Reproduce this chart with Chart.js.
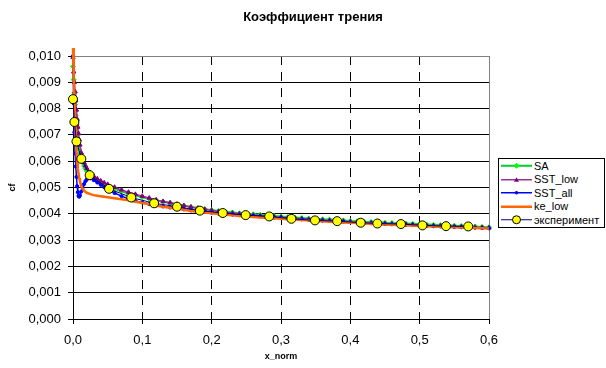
<!DOCTYPE html>
<html>
<head>
<meta charset="utf-8">
<script src="https://cdn.jsdelivr.net/npm/chart.js@4.4.0/dist/chart.umd.min.js"></script>
<style>
html,body{margin:0;padding:0;background:#fff;}
#wrap{position:relative;width:606px;height:368px;overflow:hidden;font-family:"Liberation Sans",Arial,sans-serif;}
#c{position:absolute;left:0;top:0;}
#title{position:absolute;left:0;width:626px;top:9px;line-height:16px;text-align:center;font-weight:bold;font-size:13px;color:#000;}
#legend{position:absolute;left:498px;top:158px;width:105px;border:1px solid #000;background:#fff;}
.row{height:13.5px;display:flex;align-items:center;font-size:11px;white-space:nowrap;color:#000;}
.row svg{margin-left:2px;margin-right:2px;flex:none;}
</style>
</head>
<body>
<div id="wrap">
  <canvas id="c" width="606" height="368"></canvas>
  <div id="title">Коэффициент трения</div>
  <div id="legend"></div>
</div>
<script>
// ---- data ----
const chartTitle = 'Коэффициент трения';
const xTitle = 'x_norm';
const yTitle = 'cf';
const seriesNames = ['SA', 'SST_low', 'SST_all', 'ke_low', 'эксперимент'];
const xTickLabels = ['0,0', '0,1', '0,2', '0,3', '0,4', '0,5', '0,6'];
const yTickLabels = ['0,000','0,001','0,002','0,003','0,004','0,005','0,006','0,007','0,008','0,009','0,010'];

const xGrid = [0,0.001,0.002,0.003,0.004,0.005,0.006,0.007,0.008,0.009,0.010,0.012,0.014,0.016,0.018,0.020,0.025,0.030,0.035,0.040,0.045,0.050,0.060,0.070,0.080,0.090,0.100,
  0.11,0.12,0.13,0.14,0.15,0.16,0.17,0.18,0.19,0.20,0.21,0.22,0.23,0.24,0.25,0.26,0.27,0.28,0.29,0.30,
  0.31,0.32,0.33,0.34,0.35,0.36,0.37,0.38,0.39,0.40,0.41,0.42,0.43,0.44,0.45,0.46,0.47,0.48,0.49,0.50,
  0.51,0.52,0.53,0.54,0.55,0.56,0.57,0.58,0.59,0.60];

const saY = [0.00960,0.00910,0.00860,0.00815,0.00775,0.00740,0.00710,0.00685,0.00665,0.00645,0.00630,0.00610,0.00595,0.00582,0.00572,0.00563,0.00546,0.00534,0.00524,0.00517,0.00510,0.00505,0.00495,0.00486,0.00477,0.00470,0.00463,
  0.00457,0.00451,0.00446,0.00441,0.00436,0.00431,0.00426,0.00422,0.00418,0.00414,
  0.00411,0.00408,0.00405,0.00402,0.00400,0.00398,0.00396,0.00394,0.00392,0.00390,
  0.00388,0.00386,0.00384,0.00382,0.00381,0.00379,0.00378,0.00376,0.00375,0.00373,
  0.00372,0.00370,0.00369,0.00368,0.00366,0.00365,0.00364,0.00363,0.00362,0.00360,
  0.00359,0.00358,0.00357,0.00356,0.00355,0.00354,0.00353,0.00352,0.00350,0.00349];

const sstLowY = [0.00995,0.00940,0.00900,0.00865,0.00830,0.00795,0.00760,0.00730,0.00705,0.00682,0.00662,0.00632,0.00610,0.00595,0.00583,0.00573,0.00556,0.00543,0.00533,0.00525,0.00518,0.00512,0.00501,0.00491,0.00482,0.00474,0.00467,
  0.00460,0.00453,0.00447,0.00442,0.00436,0.00431,0.00426,0.00421,0.00417,0.00413,
  0.00409,0.00406,0.00403,0.00400,0.00397,0.00395,0.00393,0.00391,0.00389,0.00387,
  0.00385,0.00383,0.00381,0.00379,0.00378,0.00376,0.00375,0.00373,0.00372,0.00370,
  0.00369,0.00367,0.00366,0.00365,0.00363,0.00362,0.00361,0.00360,0.00359,0.00357,
  0.00356,0.00355,0.00354,0.00353,0.00352,0.00351,0.00350,0.00349,0.00348,0.00347];

const sstAllY = [0.01000,0.00820,0.00710,0.00630,0.00580,0.00540,0.00505,0.00482,0.00468,0.00465,0.00470,0.00485,0.00500,0.00513,0.00524,0.00531,0.00535,0.00528,0.00519,0.00510,0.00501,0.00493,0.00479,0.00467,0.00457,0.00449,0.00443,
  0.00437,0.00432,0.00428,0.00424,0.00420,0.00417,0.00413,0.00410,0.00407,0.00404,
  0.00401,0.00399,0.00397,0.00395,0.00393,0.00392,0.00390,0.00388,0.00386,0.00385,
  0.00383,0.00381,0.00379,0.00377,0.00376,0.00374,0.00373,0.00371,0.00370,0.00368,
  0.00367,0.00365,0.00364,0.00363,0.00361,0.00360,0.00359,0.00358,0.00357,0.00355,
  0.00354,0.00353,0.00352,0.00351,0.00350,0.00349,0.00348,0.00347,0.00346,0.00345];

const keLowY = [0.01030,0.00930,0.00840,0.00760,0.00690,0.00635,0.00595,0.00572,0.00552,0.00536,0.00523,0.00505,0.00495,0.00488,0.00483,0.00480,0.00475,0.00471,0.00469,0.00467,0.00465,0.00463,0.00459,0.00455,0.00451,0.00446,0.00441,
  0.00436,0.00431,0.00427,0.00423,0.00419,0.00415,0.00411,0.00408,0.00405,0.00402,
  0.00399,0.00396,0.00394,0.00392,0.00390,0.00388,0.00386,0.00384,0.00383,0.00381,
  0.00379,0.00378,0.00376,0.00375,0.00373,0.00372,0.00370,0.00369,0.00367,0.00366,
  0.00365,0.00363,0.00362,0.00361,0.00359,0.00358,0.00357,0.00356,0.00355,0.00354,
  0.00353,0.00352,0.00351,0.00350,0.00349,0.00348,0.00347,0.00346,0.00345,0.00344];

const expX = [0.000,0.002,0.005,0.012,0.024,0.052,0.084,0.117,0.150,0.183,0.216,0.249,0.283,0.315,0.349,0.381,0.415,0.439,0.473,0.504,0.538,0.570];
const expY = [0.00836,0.00749,0.00675,0.00609,0.00547,0.00495,0.00462,0.00440,0.00427,0.00412,0.00403,0.00395,0.00390,0.00381,0.00375,0.00372,0.00366,0.00363,0.00361,0.00356,0.00353,0.00352];

// ---- styles ----
const lineColors   = ['#00cc33', '#993399', '#0000ff', '#ff6600', '#000080'];
const markerColors = ['#00ff00', '#800080', '#0000ff', null, '#ffff00'];

function pts(xs, ys) { return xs.map((x, i) => ({x: x, y: ys[i]})); }

Chart.defaults.font.family = '"Liberation Sans", Arial, sans-serif';
Chart.defaults.color = '#000';

const clipBox = {left: 8, top: 10, right: 4, bottom: 4};

const datasets = [
  {label: seriesNames[0], data: pts(xGrid, saY), borderColor: lineColors[0], borderWidth: 2,
   pointStyle: 'rectRot', pointRadius: 2.5, pointBackgroundColor: markerColors[0], pointBorderColor: markerColors[0], pointBorderWidth: 1, order: 5, clip: clipBox},
  {label: seriesNames[1], data: pts(xGrid, sstLowY), borderColor: lineColors[1], borderWidth: 1.5,
   pointStyle: 'triangle', pointRadius: 2.5, pointBackgroundColor: markerColors[1], pointBorderColor: markerColors[1], pointBorderWidth: 1, order: 4, clip: clipBox},
  {label: seriesNames[2], data: pts(xGrid, sstAllY), borderColor: lineColors[2], borderWidth: 1.5,
   pointStyle: 'circle', pointRadius: 1.6, pointBackgroundColor: markerColors[2], pointBorderColor: markerColors[2], pointBorderWidth: 1, order: 3, clip: clipBox},
  {label: seriesNames[3], data: pts(xGrid, keLowY), borderColor: lineColors[3], borderWidth: 2.5,
   pointRadius: 0, order: 2, clip: clipBox},
  {label: seriesNames[4], data: pts(expX, expY), borderColor: lineColors[4], borderWidth: 1,
   pointStyle: 'circle', pointRadius: 4.5, pointBackgroundColor: markerColors[4], pointBorderColor: '#000000', pointBorderWidth: 1, order: 1, clip: clipBox}
];
datasets.forEach(d => { d.showLine = true; d.tension = 0; d.fill = false; });

new Chart(document.getElementById('c'), {
  type: 'scatter',
  data: {datasets: datasets},
  options: {
    responsive: false,
    animation: false,
    devicePixelRatio: 1,
    layout: {padding: {top: 56, right: 117, bottom: 0, left: 0}},
    plugins: {legend: {display: false}, title: {display: false}, tooltip: {enabled: false}},
    scales: {
      x: {
        type: 'linear', min: 0, max: 0.6,
        afterFit: s => { s.height = 49; },
        ticks: {stepSize: 0.1, autoSkip: false, maxRotation: 0, padding: 9,
                font: {size: 13}, color: '#000',
                callback: (v, i) => xTickLabels[i]},
        grid: {color: c => c.index === 6 ? '#808080' : '#000000', lineWidth: 1, tickLength: 5, tickColor: '#000000'},
        border: {display: true, color: '#000000', width: 1, dash: c => (c.index === 6 ? [] : [9, 7])},
        title: {display: true, text: xTitle, font: {size: 9, weight: 'bold'}, color: '#000', padding: {top: 0, bottom: 6}}
      },
      y: {
        min: 0, max: 0.010,
        afterFit: s => { s.width = 73; },
        ticks: {stepSize: 0.001, padding: 7, font: {size: 13}, color: '#000',
                callback: (v, i) => yTickLabels[i]},
        grid: {color: c => c.index === 10 ? '#808080' : '#000000', lineWidth: 1, tickLength: 5, tickColor: '#000000'},
        border: {display: true, color: '#000000', width: 1},
        title: {display: true, text: yTitle, font: {size: 9, weight: 'bold'}, color: '#000', padding: {top: 7, bottom: 0}}
      }
    }
  }
});

// ---- legend (HTML) ----
const legend = document.getElementById('legend');
const markerShapes = ['diamond', 'triangle', 'dot', null, 'circle'];
const lineWidths = [2, 1.5, 1.5, 2.5, 1];
seriesNames.forEach((name, i) => {
  const row = document.createElement('div');
  row.className = 'row';
  let m = '';
  const cx = 15.5, cy = 6.75;
  if (markerShapes[i] === 'diamond') m = `<polygon points="${cx},${cy-3} ${cx+3},${cy} ${cx},${cy+3} ${cx-3},${cy}" fill="${markerColors[i]}"/>`;
  if (markerShapes[i] === 'triangle') m = `<polygon points="${cx},${cy-2.5} ${cx+2.5},${cy+2} ${cx-2.5},${cy+2}" fill="${markerColors[i]}"/>`;
  if (markerShapes[i] === 'dot') m = `<circle cx="${cx}" cy="${cy}" r="1.8" fill="${markerColors[i]}"/>`;
  if (markerShapes[i] === 'circle') m = `<circle cx="${cx}" cy="${cy}" r="4" fill="${markerColors[i]}" stroke="#000" stroke-width="1"/>`;
  row.innerHTML = `<svg width="31" height="13.5" viewBox="0 0 31 13.5"><line x1="0" y1="${cy}" x2="31" y2="${cy}" stroke="${lineColors[i]}" stroke-width="${lineWidths[i]}"/>${m}</svg><span>${name}</span>`;
  legend.appendChild(row);
});
document.getElementById('title').textContent = chartTitle;
</script>
</body>
</html>
